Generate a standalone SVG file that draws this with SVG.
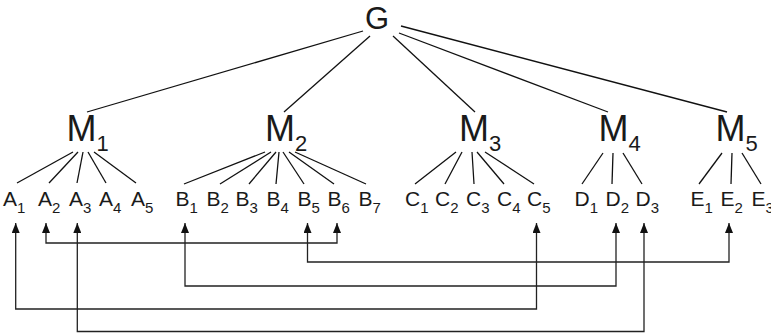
<svg xmlns="http://www.w3.org/2000/svg" width="771" height="335" viewBox="0 0 771 335">
<style>
text{font-family:"Liberation Sans",Arial,sans-serif;fill:#1a1a1a}
.g{font-size:31px}
.m{font-size:36px}
.ms{font-size:22px}
.l{font-size:21px}
.ls{font-size:15px}
.e{stroke:#111;stroke-width:1.3;fill:none}
.c{stroke:#222;stroke-width:1.3;fill:none;marker-start:url(#ah);marker-end:url(#ah)}
</style>
<defs>
<marker id="ah" viewBox="0 0 10 8" refX="10" refY="4" markerWidth="10" markerHeight="8" markerUnits="userSpaceOnUse" orient="auto-start-reverse">
<path d="M0,0 L10,4 L0,8 z" fill="#111"/>
</marker>
</defs>
<g id="edges">
<line class="e" x1="87" y1="112" x2="363" y2="31"/>
<line class="e" x1="284" y1="112" x2="370" y2="36"/>
<line class="e" x1="475" y1="112" x2="393" y2="36"/>
<line class="e" x1="608" y1="112" x2="399" y2="33"/>
<line class="e" x1="727" y1="112" x2="401" y2="26"/>
<line class="e" x1="73" y1="152" x2="17" y2="183"/>
<line class="e" x1="78" y1="152" x2="49" y2="183"/>
<line class="e" x1="83" y1="152" x2="77" y2="183"/>
<line class="e" x1="88" y1="152" x2="106" y2="183"/>
<line class="e" x1="94" y1="152" x2="136" y2="183"/>
<line class="e" x1="265" y1="152" x2="184" y2="184"/>
<line class="e" x1="271" y1="152" x2="220" y2="184"/>
<line class="e" x1="276" y1="152" x2="249" y2="184"/>
<line class="e" x1="279" y1="152" x2="276" y2="184"/>
<line class="e" x1="283" y1="152" x2="304" y2="184"/>
<line class="e" x1="289" y1="152" x2="334" y2="184"/>
<line class="e" x1="295" y1="152" x2="366" y2="184"/>
<line class="e" x1="456" y1="152" x2="415" y2="184"/>
<line class="e" x1="462" y1="152" x2="445" y2="184"/>
<line class="e" x1="472" y1="152" x2="474" y2="184"/>
<line class="e" x1="477" y1="152" x2="504" y2="184"/>
<line class="e" x1="485" y1="152" x2="534" y2="184"/>
<line class="e" x1="603" y1="153" x2="582" y2="184"/>
<line class="e" x1="613" y1="153" x2="612" y2="184"/>
<line class="e" x1="623" y1="153" x2="642" y2="184"/>
<line class="e" x1="722" y1="153" x2="699" y2="184"/>
<line class="e" x1="732" y1="153" x2="731" y2="184"/>
<line class="e" x1="742" y1="153" x2="761" y2="184"/>
</g>
<g id="connectors">
<path class="c" d="M46,223 V243 H337 V223"/>
<path class="c" d="M307.5,223 V262 H729 V223"/>
<path class="c" d="M185,223 V286 H616 V223"/>
<path class="c" d="M15.7,223 V309 H536.5 V223"/>
<path class="c" d="M77.3,223 V331.5 H644 V223"/>
</g>
<g id="G"><text class="g" x="365" y="28.5">G</text></g>
<g id="M1"><text class="m" x="66.5" y="140.7">M<tspan class="ms" dy="10">1</tspan></text></g>
<g id="M2"><text class="m" x="265" y="140.7">M<tspan class="ms" dy="10">2</tspan></text></g>
<g id="M3"><text class="m" x="459" y="140.7">M<tspan class="ms" dy="10">3</tspan></text></g>
<g id="M4"><text class="m" x="598.5" y="140.7">M<tspan class="ms" dy="10">4</tspan></text></g>
<g id="M5"><text class="m" x="715.5" y="140.7">M<tspan class="ms" dy="10">5</tspan></text></g>
<g id="A1"><text class="l" x="3" y="206">A<tspan class="ls" dy="6.5">1</tspan></text></g>
<g id="A2"><text class="l" x="38" y="206">A<tspan class="ls" dy="6.5">2</tspan></text></g>
<g id="A3"><text class="l" x="69" y="206">A<tspan class="ls" dy="6.5">3</tspan></text></g>
<g id="A4"><text class="l" x="99" y="206">A<tspan class="ls" dy="6.5">4</tspan></text></g>
<g id="A5"><text class="l" x="131" y="206">A<tspan class="ls" dy="6.5">5</tspan></text></g>
<g id="B1"><text class="l" x="175.5" y="206">B<tspan class="ls" dy="6.5">1</tspan></text></g>
<g id="B2"><text class="l" x="206.5" y="206">B<tspan class="ls" dy="6.5">2</tspan></text></g>
<g id="B3"><text class="l" x="235.5" y="206">B<tspan class="ls" dy="6.5">3</tspan></text></g>
<g id="B4"><text class="l" x="266.5" y="206">B<tspan class="ls" dy="6.5">4</tspan></text></g>
<g id="B5"><text class="l" x="297.5" y="206">B<tspan class="ls" dy="6.5">5</tspan></text></g>
<g id="B6"><text class="l" x="327.5" y="206">B<tspan class="ls" dy="6.5">6</tspan></text></g>
<g id="B7"><text class="l" x="358.5" y="206">B<tspan class="ls" dy="6.5">7</tspan></text></g>
<g id="C1"><text class="l" x="405" y="206">C<tspan class="ls" dy="6.5">1</tspan></text></g>
<g id="C2"><text class="l" x="435" y="206">C<tspan class="ls" dy="6.5">2</tspan></text></g>
<g id="C3"><text class="l" x="466" y="206">C<tspan class="ls" dy="6.5">3</tspan></text></g>
<g id="C4"><text class="l" x="497" y="206">C<tspan class="ls" dy="6.5">4</tspan></text></g>
<g id="C5"><text class="l" x="527" y="206">C<tspan class="ls" dy="6.5">5</tspan></text></g>
<g id="D1"><text class="l" x="574.5" y="206">D<tspan class="ls" dy="6.5">1</tspan></text></g>
<g id="D2"><text class="l" x="605.5" y="206">D<tspan class="ls" dy="6.5">2</tspan></text></g>
<g id="D3"><text class="l" x="635.5" y="206">D<tspan class="ls" dy="6.5">3</tspan></text></g>
<g id="E1"><text class="l" x="690.5" y="206">E<tspan class="ls" dy="6.5">1</tspan></text></g>
<g id="E2"><text class="l" x="720.5" y="206">E<tspan class="ls" dy="6.5">2</tspan></text></g>
<g id="E3"><text class="l" x="751.5" y="206">E<tspan class="ls" dy="6.5">3</tspan></text></g>
</svg>
